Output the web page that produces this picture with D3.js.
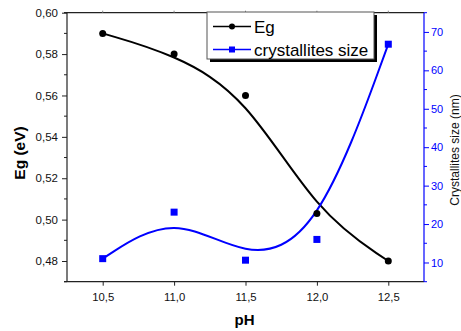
<!DOCTYPE html>
<html><head><meta charset="utf-8">
<script src="https://cdn.jsdelivr.net/npm/d3@7"></script>
<style>body{margin:0;background:#fff}svg{display:block;font-family:"Liberation Sans",Arial,sans-serif}</style>
</head><body><svg id="c" width="461" height="331"></svg>
<script>
const pH = [10.5, 11.0, 11.5, 12.0, 12.5];
const eg = [0.590, 0.580, 0.560, 0.503, 0.480];
const crystSize = [11.0, 23.1, 10.6, 16.0, 66.8];
const xTicks = [10.5, 11.0, 11.5, 12.0, 12.5];
const yLeftTicks = [0.48, 0.50, 0.52, 0.54, 0.56, 0.58, 0.60];
const yRightTicks = [10, 20, 30, 40, 50, 60, 70];
const seriesNames = ["Eg", "crystallites size"];

const svg = d3.select("#c");
const L = 67, R = 424, T = 12.7, B = 281.7;
const x = d3.scaleLinear().domain([10.25, 12.75]).range([L, R]);
const yL = d3.scaleLinear().domain([0.47, 0.60]).range([B, T]);
const yR = d3.scaleLinear().domain([5, 75]).range([B, T]);
const fmt = d => d.toFixed(d < 1 ? 2 : 1).replace(".", ",");
const blue = "#0000ff";

// frame lines
svg.append("line").attr("x1", L - 3).attr("x2", R).attr("y1", T).attr("y2", T).attr("stroke", "#222").attr("stroke-width", 1.2);

// bottom axis
const gx = svg.append("g").attr("transform", `translate(0,${B})`)
  .call(d3.axisBottom(x).tickValues(xTicks).tickSize(4).tickFormat(fmt));
gx.select(".domain").attr("d", `M${L-3},0H${R}`).attr("stroke", "#222").attr("stroke-width", 1.2);
gx.selectAll(".tick line").attr("stroke", "#222");
gx.selectAll("text").attr("font-size", 11.3).attr("fill", "#111").attr("dy", "1.05em").attr("font-family", "Liberation Sans, Arial");

// top ticks
svg.append("g").selectAll("line").data(xTicks).join("line")
  .attr("x1", d => x(d)).attr("x2", d => x(d)).attr("y1", T).attr("y2", T - 2).attr("stroke", "#888");

// left axis
const gl = svg.append("g").attr("transform", `translate(${L},0)`)
  .call(d3.axisLeft(yL).tickValues(yLeftTicks).tickSize(5).tickFormat(fmt));
gl.select(".domain").attr("d", `M0,${T}V${B}`).attr("stroke", "#222").attr("stroke-width", 1.2);
gl.selectAll(".tick line").attr("stroke", "#222");
gl.selectAll("text").attr("font-size", 11.5).attr("fill", "#111").attr("x", -9).attr("font-family", "Liberation Sans, Arial");
const minorL = d3.range(0.47, 0.6001, 0.01).filter(v => !yLeftTicks.some(t => Math.abs(t - v) < 1e-6));
svg.append("g").selectAll("line").data(minorL).join("line")
  .attr("x1", L).attr("x2", L - 3).attr("y1", d => yL(d)).attr("y2", d => yL(d)).attr("stroke", "#222");

// right axis
const gr = svg.append("g").attr("transform", `translate(${R},0)`)
  .call(d3.axisRight(yR).tickValues(yRightTicks).tickSize(5).tickFormat(d => d));
gr.select(".domain").attr("d", `M0,${T}V${B}`).attr("stroke", blue).attr("stroke-width", 1.2);
gr.selectAll(".tick line").attr("stroke", blue);
gr.selectAll("text").attr("font-size", 11).attr("fill", blue).attr("x", 7).attr("font-family", "Liberation Sans, Arial");
const minorR = d3.range(5, 75.01, 5).filter(v => !yRightTicks.includes(v));
svg.append("g").selectAll("line").data(minorR).join("line")
  .attr("x1", R).attr("x2", R + 3).attr("y1", d => yR(d)).attr("y2", d => yR(d)).attr("stroke", blue);

// titles
svg.append("text").attr("x", (L + R) / 2 - 1).attr("y", 325).attr("text-anchor", "middle")
  .attr("font-size", 15).attr("font-weight", "bold").text("pH");
svg.append("text").attr("transform", "translate(25,153) rotate(-90)").attr("text-anchor", "middle")
  .attr("font-size", 15.5).attr("font-weight", "bold").text("Eg (eV)");
svg.append("text").attr("transform", "translate(459,150) rotate(-90)").attr("text-anchor", "middle")
  .attr("font-size", 12).attr("fill", "#111").text("Crystallites size (nm)");

// curves
const egData = pH.map((p, i) => [p, eg[i]]);
const csData = pH.map((p, i) => [p, crystSize[i]]);
svg.append("path").datum(egData).attr("fill", "none").attr("stroke", "#000").attr("stroke-width", 2)
  .attr("d", d3.line().x(d => x(d[0])).y(d => yL(d[1])).curve(d3.curveBasis));
svg.append("path").datum(csData).attr("fill", "none").attr("stroke", blue).attr("stroke-width", 2)
  .attr("d", d3.line().x(d => x(d[0])).y(d => yR(d[1])).curve(d3.curveBasis));

svg.append("g").selectAll("circle").data(egData).join("circle")
  .attr("cx", d => x(d[0])).attr("cy", d => yL(d[1])).attr("r", 3.5).attr("fill", "#000");
svg.append("g").selectAll("rect").data(csData).join("rect")
  .attr("x", d => x(d[0]) - 3.5).attr("y", d => yR(d[1]) - 3.5).attr("width", 7).attr("height", 7).attr("fill", blue);

// legend
const lg = svg.append("g");
const lx = 207, ly = 12, lw = 167, lh = 47;
lg.append("rect").attr("x", lx + 3).attr("y", ly + 3).attr("width", lw).attr("height", lh).attr("fill", "#000");
lg.append("rect").attr("x", lx).attr("y", ly).attr("width", lw).attr("height", lh).attr("fill", "#fff").attr("stroke", "#555").attr("stroke-width", 1);
const rows = [{c: "#000", m: "circle", y: 26.5}, {c: blue, m: "rect", y: 49.5}];
rows.forEach((r, i) => {
  lg.append("line").attr("x1", 213).attr("x2", 251).attr("y1", r.y).attr("y2", r.y).attr("stroke", r.c).attr("stroke-width", 1.6);
  if (r.m === "circle") lg.append("circle").attr("cx", 232).attr("cy", r.y).attr("r", 3).attr("fill", r.c);
  else lg.append("rect").attr("x", 229).attr("y", r.y - 3).attr("width", 6).attr("height", 6).attr("fill", r.c);
  lg.append("text").attr("x", 254).attr("y", r.y + 6).attr("font-size", 17).attr("fill", "#000").text(seriesNames[i]);
});
</script></body></html>
